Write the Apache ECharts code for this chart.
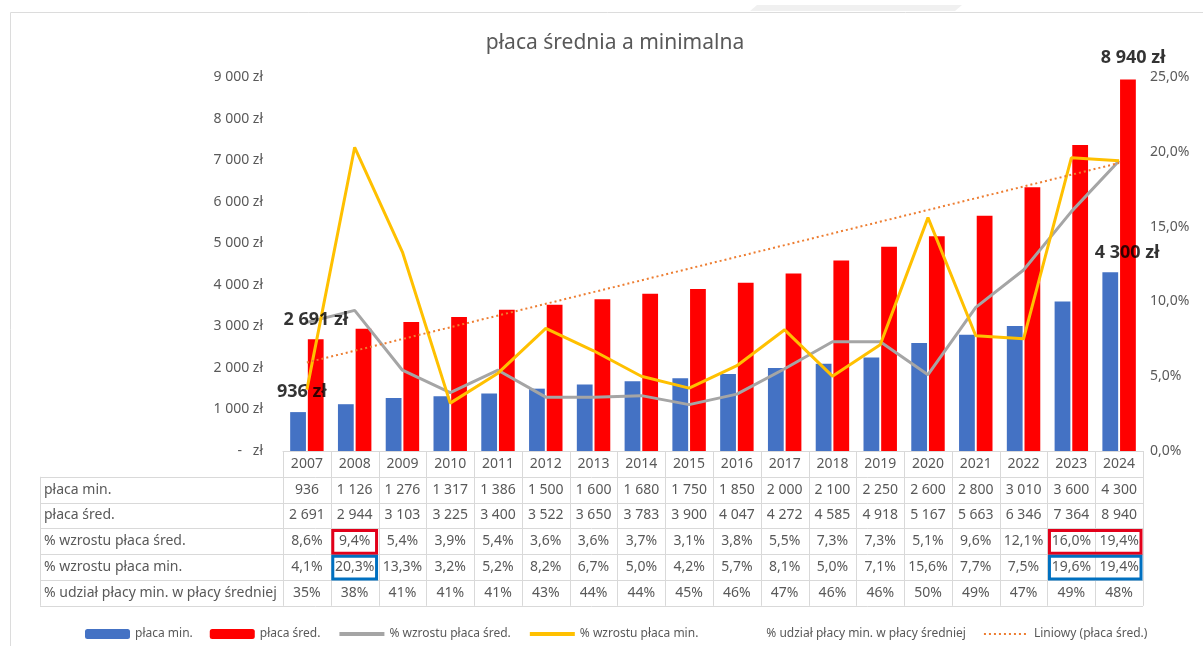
<!DOCTYPE html>
<html>
<head>
<meta charset="utf-8">
<title>płaca średnia a minimalna</title>
<script src="https://cdn.jsdelivr.net/npm/echarts@6/dist/echarts.min.js"></script>
<style>
  html, body { margin: 0; padding: 0; background: #fff; }
  #chart { width: 1203px; height: 646px; }
</style>
</head>
<body>
<div id="chart"></div>
<script>
var years = ['2007', '2008', '2009', '2010', '2011', '2012', '2013', '2014', '2015', '2016', '2017', '2018', '2019', '2020', '2021', '2022', '2023', '2024'];
var placaMin = [936, 1126, 1276, 1317, 1386, 1500, 1600, 1680, 1750, 1850, 2000, 2100, 2250, 2600, 2800, 3010, 3600, 4300];
var placaSred = [2691, 2944, 3103, 3225, 3400, 3522, 3650, 3783, 3900, 4047, 4272, 4585, 4918, 5167, 5663, 6346, 7364, 8940];
var wzrostSred = [8.6, 9.4, 5.4, 3.9, 5.4, 3.6, 3.6, 3.7, 3.1, 3.8, 5.5, 7.3, 7.3, 5.1, 9.6, 12.1, 16.0, 19.4];
var wzrostMin = [4.1, 20.3, 13.3, 3.2, 5.2, 8.2, 6.7, 5.0, 4.2, 5.7, 8.1, 5.0, 7.1, 15.6, 7.7, 7.5, 19.6, 19.4];
var udzial = [35, 38, 41, 41, 41, 43, 44, 44, 45, 46, 47, 46, 46, 50, 49, 47, 49, 48];
// trend line endpoints
var trendSred = [2130, null, null, null, null, null, null, null, null, null, null, null, null, null, null, null, null, 6930];
var labelledIdx = [0, 17];

var FONT = 'Noto Sans';
var GREY = '#595959';

function fmtNum(v) {
  return String(v).replace(/\B(?=(\d{3})+(?!\d))/g, ' ');
}
function fmtPct(v, d) {
  return v.toFixed(d).replace('.', ',') + '%';
}

var chart = echarts.init(document.getElementById('chart'));

// value labels for first/last year, kept on top of the lines
var labelOffsets = { min: [[-5, -6], [8, -5]], sred: [[9, -5], [14, -7]] };
var labelPoints = [];
labelledIdx.forEach(function (idx, k) {
  labelPoints.push({ value: [idx, placaMin[idx]], label: { offset: labelOffsets.min[k] } });
  labelPoints.push({ value: [idx, placaSred[idx]], label: { offset: labelOffsets.sred[k] } });
});

var lineLegendStyle = { opacity: 0 };

chart.setOption({
  animation: false,
  textStyle: { fontFamily: FONT },
  title: {
    text: 'płaca średnia a minimalna',
    left: 610,
    textAlign: 'center',
    top: 28,
    textStyle: { fontFamily: FONT, fontSize: 21, fontWeight: 'normal', color: GREY }
  },
  legend: {
    left: 80,
    top: 623,
    itemWidth: 45,
    itemHeight: 10,
    itemGap: 17,
    textStyle: { fontFamily: FONT, fontSize: 12, color: GREY },
    data: [
      'płaca min.',
      'płaca śred.',
      { name: '% wzrostu płaca śred.', itemStyle: lineLegendStyle, lineStyle: { width: 4 } },
      { name: '% wzrostu płaca min.', itemStyle: lineLegendStyle, lineStyle: { width: 4 } },
      { name: '% udział płacy min. w płacy średniej', itemStyle: lineLegendStyle },
      { name: 'Liniowy (płaca śred.)', itemStyle: lineLegendStyle }
    ]
  },
  grid: { left: 283, right: 60, top: 77, bottom: 195 },
  xAxis: {
    type: 'category',
    data: years,
    axisLine: { lineStyle: { color: '#d9d9d9' } },
    axisTick: { show: false },
    axisLabel: { color: GREY, fontSize: 14, margin: 6 }
  },
  yAxis: [
    {
      type: 'value', min: 0, max: 9000, interval: 1000,
      splitLine: { show: false },
      axisLine: { show: false },
      axisLabel: {
        color: GREY, fontSize: 14, margin: 20,
        formatter: function (v) { return v === 0 ? '-   zł' : fmtNum(v) + ' zł'; }
      }
    },
    {
      type: 'value', min: 0, max: 0.25, interval: 0.05,
      splitLine: { show: false },
      axisLine: { show: false },
      axisLabel: {
        color: GREY, fontSize: 14, margin: 7,
        formatter: function (v) { return fmtPct(v * 100, 1); }
      }
    }
  ],
  series: [
    {
      name: 'płaca min.', type: 'bar', yAxisIndex: 0,
      barGap: '12%', barCategoryGap: '30%',
      itemStyle: { color: '#4472c4' },
      data: placaMin
    },
    {
      name: 'płaca śred.', type: 'bar', yAxisIndex: 0,
      itemStyle: { color: '#ff0000' },
      data: placaSred
    },
    {
      name: '% wzrostu płaca śred.', type: 'line', yAxisIndex: 1,
      symbol: 'none', z: 3,
      itemStyle: { color: '#a5a5a5' },
      lineStyle: { color: '#a5a5a5', width: 3 },
      data: wzrostSred.map(function (v) { return v / 100; })
    },
    {
      name: '% wzrostu płaca min.', type: 'line', yAxisIndex: 1,
      symbol: 'none', z: 3,
      itemStyle: { color: '#ffc000' },
      lineStyle: { color: '#ffc000', width: 3 },
      data: wzrostMin.map(function (v) { return v / 100; })
    },
    {
      name: '% udział płacy min. w płacy średniej', type: 'line', yAxisIndex: 1,
      symbol: 'none',
      itemStyle: { color: 'rgba(0,0,0,0)' },
      lineStyle: { color: 'rgba(0,0,0,0)', width: 3 },
      data: udzial.map(function (v) { return v / 100; })
    },
    {
      name: 'Liniowy (płaca śred.)', type: 'line', yAxisIndex: 0,
      symbol: 'none', connectNulls: true, z: 3,
      itemStyle: { color: '#ed7d31' },
      lineStyle: { color: '#ed7d31', width: 2, type: [2, 3] },
      data: trendSred
    },
    {
      name: 'labels', type: 'scatter', yAxisIndex: 0, z: 10,
      symbolSize: 1,
      itemStyle: { color: 'rgba(0,0,0,0)' },
      label: {
        show: true,
        position: 'top',
        distance: 5,
        formatter: function (p) { return fmtNum(p.value[1]) + ' zł'; },
        fontFamily: FONT,
        fontWeight: 'bold',
        fontSize: 18,
        color: '#000'
      },
      data: labelPoints
    }
  ]
});

// data table under the plot, aligned to the category axis
var rows = [
  { name: 'płaca min.', cells: placaMin.map(fmtNum) },
  { name: 'płaca śred.', cells: placaSred.map(fmtNum) },
  { name: '% wzrostu płaca śred.', cells: wzrostSred.map(function (v) { return fmtPct(v, 1); }) },
  { name: '% wzrostu płaca min.', cells: wzrostMin.map(function (v) { return fmtPct(v, 1); }) },
  { name: '% udział płacy min. w płacy średniej', cells: udzial.map(function (v) { return v + '%'; }) }
];
var centers = years.map(function (y, i) { return chart.convertToPixel({ xAxisIndex: 0 }, i); });
var colW = centers[1] - centers[0];
var x0 = centers[0] - colW / 2;
var x1 = centers[centers.length - 1] + colW / 2;
var yTop = chart.convertToPixel({ yAxisIndex: 0 }, 0);
var rowH = 25.8;
var labelLeft = 40;
var lineCol = '#d9d9d9';
var els = [];

// outer frame of the chart
els.push({ type: 'rect', shape: { x: 10.5, y: 12.5, width: 1300, height: 700 }, style: { fill: 'none', stroke: '#dcdcdc', lineWidth: 1 }, silent: true });
els.push({ type: 'polygon', shape: { points: [[750, 11], [757, 5], [962, 5], [955, 11]] }, style: { fill: '#f0f0f0' }, silent: true });

for (var c = 0; c <= years.length; c++) {
  var x = Math.round(x0 + c * colW) + 0.5;
  els.push({ type: 'line', shape: { x1: x, y1: yTop, x2: x, y2: yTop + rowH * 6 }, style: { stroke: lineCol, lineWidth: 1 }, silent: true });
}
els.push({ type: 'line', shape: { x1: labelLeft + 0.5, y1: yTop + rowH, x2: labelLeft + 0.5, y2: yTop + rowH * 6 }, style: { stroke: lineCol, lineWidth: 1 }, silent: true });
for (var r = 1; r <= 6; r++) {
  var yy = Math.round(yTop + r * rowH) + 0.5;
  els.push({ type: 'line', shape: { x1: labelLeft, y1: yy, x2: x1, y2: yy }, style: { stroke: lineCol, lineWidth: 1 }, silent: true });
}
rows.forEach(function (row, ri) {
  var cy = yTop + rowH * (ri + 1) + rowH / 2;
  els.push({ type: 'text', x: labelLeft + 4, y: cy, style: { text: row.name, fill: GREY, fontSize: 14, fontFamily: FONT, textAlign: 'left', align: 'left', textVerticalAlign: 'middle', verticalAlign: 'middle' }, silent: true });
  row.cells.forEach(function (t, ci) {
    els.push({ type: 'text', x: centers[ci], y: cy, style: { text: t, fill: GREY, fontSize: 14, fontFamily: FONT, textAlign: 'center', align: 'center', textVerticalAlign: 'middle', verticalAlign: 'middle' }, silent: true });
  });
});

// highlight boxes in the table
function box(c0, c1, ri, color) {
  var yb = yTop + rowH * (ri + 1);
  els.push({
    type: 'rect', z: 10,
    shape: { x: x0 + c0 * colW + 2, y: yb + 2, width: (c1 - c0 + 1) * colW - 4, height: rowH - 3 },
    style: { fill: 'none', stroke: color, lineWidth: 3 }, silent: true
  });
}
box(1, 1, 2, '#e2001a');
box(1, 1, 3, '#0070c0');
box(16, 17, 2, '#e2001a');
box(16, 17, 3, '#0070c0');

chart.setOption({ graphic: { elements: els } });
</script>
</body>
</html>
